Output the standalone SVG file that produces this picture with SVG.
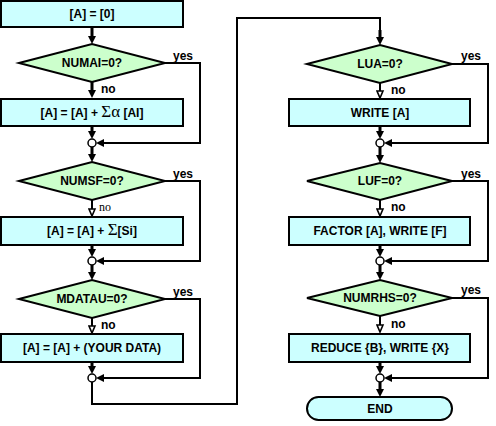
<svg xmlns="http://www.w3.org/2000/svg" width="496" height="426" viewBox="0 0 496 426">
<style>
.box{fill:#ccffff;stroke:#000;stroke-width:2}
.dia{fill:#ccffcc;stroke:#000;stroke-width:2}
.jn{fill:#fff;stroke:#000;stroke-width:1.5}
.t{font-family:"Liberation Sans",Arial,sans-serif;font-weight:bold;font-size:12px;fill:#000;text-anchor:middle}
.lbl{font-family:"Liberation Sans",Arial,sans-serif;font-weight:bold;font-size:12px;fill:#000}
.sym{font-family:"Liberation Serif","DejaVu Serif",serif;font-weight:normal;font-size:17px}
.ln{fill:none;stroke:#000;stroke-width:2}
.thick{fill:none;stroke:#000;stroke-width:3}
.thin{fill:none;stroke:#000;stroke-width:2}
</style>
<defs>
<marker id="ah" viewBox="0 0 8 8" refX="0" refY="4" markerWidth="8" markerHeight="8" markerUnits="userSpaceOnUse" orient="auto"><path d="M0,0 L8,4 L0,8 z" fill="#000"/></marker>
<marker id="ahh" viewBox="-1 -1 9 9" refX="0" refY="3.5" markerWidth="9" markerHeight="9" markerUnits="userSpaceOnUse" orient="auto"><path d="M0,0.5 L7,3.5 L0,6.5 z" fill="#fff" stroke="#000" stroke-width="1.6"/></marker>
</defs>

<g id="connectors">
  <!-- left column -->
  <path class="thick" d="M92,27 V36" marker-end="url(#ah)"/>
  <path class="thick" d="M92,82 V90" marker-end="url(#ah)"/>
  <path class="thick" d="M92,126 V131" marker-end="url(#ah)"/>
  <path class="ln" d="M165,63 H200 V143 H104" marker-end="url(#ah)"/>
  <path class="thick" d="M92,147 V154" marker-end="url(#ah)"/>
  <path class="thin" d="M92,200 V209" marker-end="url(#ahh)"/>
  <path class="thick" d="M92,245 V249" marker-end="url(#ah)"/>
  <path class="ln" d="M165,181 H200 V261 H104" marker-end="url(#ah)"/>
  <path class="thick" d="M92,265 V272" marker-end="url(#ah)"/>
  <path class="thin" d="M92,318 V326" marker-end="url(#ahh)"/>
  <path class="thick" d="M92,362 V366" marker-end="url(#ah)"/>
  <path class="ln" d="M165,299 H200 V378 H104" marker-end="url(#ah)"/>
  <path class="ln" d="M92,382 V404 H237 V18 H380 V36"/>
  <path class="thick" d="M380,30 V37" marker-end="url(#ah)"/>
  <!-- right column -->
  <path class="thin" d="M380,83 V91" marker-end="url(#ahh)"/>
  <path class="thick" d="M380,126 V131" marker-end="url(#ah)"/>
  <path class="ln" d="M452,64 H488 V143 H392" marker-end="url(#ah)"/>
  <path class="thick" d="M380,147 V155" marker-end="url(#ah)"/>
  <path class="thin" d="M380,200 V209" marker-end="url(#ahh)"/>
  <path class="thick" d="M380,245 V249" marker-end="url(#ah)"/>
  <path class="ln" d="M452,181 H488 V261 H392" marker-end="url(#ah)"/>
  <path class="thick" d="M380,265 V272" marker-end="url(#ah)"/>
  <path class="thin" d="M380,316 V325" marker-end="url(#ahh)"/>
  <path class="thick" d="M380,362 V366" marker-end="url(#ah)"/>
  <path class="ln" d="M452,298 H488 V378 H392" marker-end="url(#ah)"/>
  <path class="thick" d="M380,382 V389" marker-end="url(#ah)"/>
  <!-- labels -->
  <text class="lbl" x="173" y="60">yes</text>
  <text class="lbl" x="101" y="93">no</text>
  <text class="lbl" x="173" y="178">yes</text>
  <text x="99" y="211" style="font-family:'Liberation Serif','DejaVu Serif',serif;font-size:12px">no</text>
  <text class="lbl" x="173" y="296">yes</text>
  <text class="lbl" x="101" y="329">no</text>
  <text class="lbl" x="461" y="60">yes</text>
  <text class="lbl" x="391" y="94">no</text>
  <text class="lbl" x="461" y="178">yes</text>
  <text class="lbl" x="391" y="211">no</text>
  <text class="lbl" x="461" y="294">yes</text>
  <text class="lbl" x="391" y="328">no</text>
</g>

<g id="n_init"><rect class="box" x="1" y="1" width="182" height="26"/><text class="t" x="92" y="18">[A] = [0]</text></g>
<g id="n_numai"><polygon class="dia" points="19,63 92,44 165,63 92,82"/><text class="t" x="92" y="67">NUMAI=0?</text></g>
<g id="n_addai"><rect class="box" x="1" y="99" width="182" height="27"/><text class="t" x="92" y="117">[A] = [A] + <tspan class="sym">Σα</tspan> [AI]</text></g>
<g id="j1"><circle class="jn" cx="92" cy="143" r="4"/></g>
<g id="n_numsf"><polygon class="dia" points="19,181 92,162 165,181 92,200"/><text class="t" x="92" y="185">NUMSF=0?</text></g>
<g id="n_addsi"><rect class="box" x="1" y="217" width="182" height="28"/><text class="t" x="92" y="235">[A] = [A] + <tspan class="sym">Σ</tspan>[Si]</text></g>
<g id="j2"><circle class="jn" cx="92" cy="261" r="4"/></g>
<g id="n_mdatau"><polygon class="dia" points="19,299 92,280 165,299 92,318"/><text class="t" x="92" y="303">MDATAU=0?</text></g>
<g id="n_adddata"><rect class="box" x="1" y="334" width="182" height="28"/><text class="t" x="92" y="352">[A] = [A] + (YOUR DATA)</text></g>
<g id="j3"><circle class="jn" cx="92" cy="378" r="4"/></g>

<g id="n_lua"><polygon class="dia" points="307,64 380,45 452,64 380,83"/><text class="t" x="380" y="68">LUA=0?</text></g>
<g id="n_writea"><rect class="box" x="289" y="99" width="181" height="27"/><text class="t" x="380" y="117">WRITE [A]</text></g>
<g id="j4"><circle class="jn" cx="380" cy="143" r="4"/></g>
<g id="n_luf"><polygon class="dia" points="307,181 380,163 452,181 380,200"/><text class="t" x="380" y="185">LUF=0?</text></g>
<g id="n_factor"><rect class="box" x="289" y="217" width="181" height="28"/><text class="t" x="380" y="235">FACTOR [A], WRITE [F]</text></g>
<g id="j5"><circle class="jn" cx="380" cy="261" r="4"/></g>
<g id="n_numrhs"><polygon class="dia" points="307,298 380,280 452,298 380,316"/><text class="t" x="380" y="302">NUMRHS=0?</text></g>
<g id="n_reduce"><rect class="box" x="289" y="334" width="181" height="28"/><text class="t" x="380" y="352">REDUCE {B}, WRITE {X}</text></g>
<g id="j6"><circle class="jn" cx="380" cy="378" r="4"/></g>
<g id="n_end"><rect class="box" x="307" y="397" width="145" height="23" rx="11.5"/><text class="t" x="380" y="413">END</text></g>
</svg>
